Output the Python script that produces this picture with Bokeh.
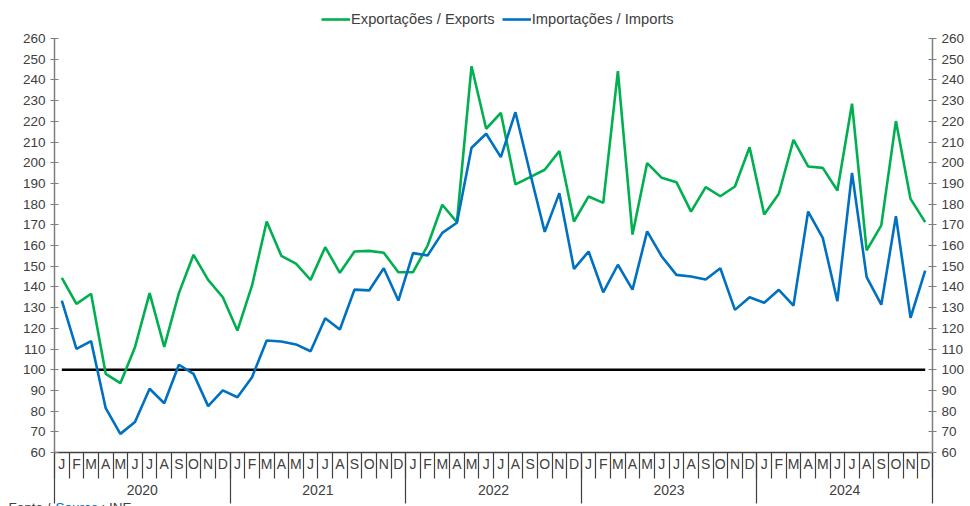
from bokeh.plotting import figure
from bokeh.models import Range1d, LinearAxis, FixedTicker, Legend, LegendItem, Label
from bokeh.embed import file_html
from bokeh.resources import INLINE

years = ["2020", "2021", "2022", "2023", "2024"]
month_letters = ["J", "F", "M", "A", "M", "J", "J", "A", "S", "O", "N", "D"]

exports = [
    144.4, 131.8, 136.7, 98.0, 93.5, 110.9, 137.0, 111.0, 137.0, 155.5, 143.4, 135.0,
    118.9, 140.7, 171.6, 155.0, 151.2, 143.4, 159.2, 146.8, 157.1, 157.4, 156.5, 147.1,
    147.1, 160.0, 179.7, 171.3, 246.6, 216.4, 224.1, 189.5, 193.0, 196.6, 205.6, 171.6,
    183.7, 180.6, 244.2, 165.3, 199.8, 192.7, 190.6, 176.4, 188.2, 183.8, 188.5, 207.5,
    175.0, 185.0, 211.0, 198.2, 197.5, 186.6, 228.5, 157.6, 169.7, 220.1, 182.5, 171.3,
]
imports = [
    133.4, 110.1, 113.8, 81.4, 69.0, 74.7, 90.8, 83.8, 102.4, 98.0, 82.4, 90.0,
    86.7, 96.4, 114.1, 113.6, 112.2, 108.9, 124.9, 119.4, 138.7, 138.3, 149.0, 133.4,
    156.3, 155.2, 166.1, 171.0, 207.2, 214.0, 202.7, 224.4, 195.0, 166.6, 185.3, 148.7,
    157.1, 137.4, 150.7, 138.7, 166.8, 154.7, 145.8, 145.0, 143.6, 149.0, 128.9, 135.0,
    132.3, 138.6, 131.0, 176.4, 163.7, 133.1, 195.1, 144.7, 131.4, 174.2, 125.1, 147.9,
]
baseline = [100] * len(exports)

y_ticks = list(range(60, 261, 10))
Y_MIN, Y_MAX = 60, 260

FONT = "Liberation Sans"
TXT = "#404040"
AXC = "#7f7f7f"
GREEN = "#00B050"
BLUE = "#0070C0"

n = len(exports)
xs = list(range(n))

# pixel geometry of the plotting area inside the 970x506 canvas
W, H = 970, 506
L, R, T, B = 54, 932, 38, 452
ppx = (R - L) / n                     # px per month
ppy = (B - T) / (Y_MAX - Y_MIN)       # px per index point
x0 = -0.5 - L / ppx
x1 = n - 0.5 + (W - R) / ppx
y1 = Y_MAX + T / ppy
y0 = Y_MIN - (H - B) / ppy

p = figure(width=W, height=H, output_backend="svg", toolbar_location=None,
           x_range=Range1d(x0, x1), y_range=Range1d(y0, y1),
           x_axis_location=None, y_axis_location=None,
           min_border_left=0, min_border_right=0, min_border_top=0, min_border_bottom=0)
p.outline_line_color = None
p.background_fill_color = "white"
p.border_fill_color = "white"
p.grid.visible = False

def yaxis(loc):
    ax = LinearAxis(ticker=FixedTicker(ticks=y_ticks, minor_ticks=[]),
                    fixed_location=loc, bounds=(Y_MIN, Y_MAX))
    ax.major_tick_in = 4
    ax.major_tick_out = 4
    ax.minor_tick_in = 0
    ax.minor_tick_out = 0
    ax.axis_line_color = AXC
    ax.axis_line_width = 1.5
    ax.major_tick_line_color = AXC
    ax.major_tick_line_width = 1.2
    ax.major_label_text_font = FONT
    ax.major_label_text_font_size = "13.5px"
    ax.major_label_text_color = TXT
    ax.major_label_standoff = 5
    return ax

p.add_layout(yaxis(-0.5), "left")
p.add_layout(yaxis(n - 0.5), "right")

# month axis
overrides = {i: month_letters[i % 12] for i in xs}
mx = LinearAxis(ticker=FixedTicker(ticks=xs, minor_ticks=[i - 0.5 for i in range(n + 1)]),
                fixed_location=Y_MIN, bounds=(-0.5, n - 0.5))
mx.major_label_overrides = overrides
mx.major_tick_in = 0
mx.major_tick_out = 0
mx.minor_tick_in = -26
mx.minor_tick_out = 0
mx.axis_line_color = "#404040"
mx.axis_line_width = 1.5
mx.minor_tick_line_color = "#404040"
mx.minor_tick_line_width = 1.2
mx.major_label_text_font = FONT
mx.major_label_text_font_size = "14px"
mx.major_label_text_color = TXT
mx.major_label_standoff = 3
p.add_layout(mx, "below")

# year axis
year_centers = [12 * k + 5.5 for k in range(len(years))]
year_bounds = [12 * k - 0.5 for k in range(len(years) + 1)]
yx = LinearAxis(ticker=FixedTicker(ticks=year_centers, minor_ticks=year_bounds),
                fixed_location=Y_MIN, bounds=(-0.5, n - 0.5))
yx.major_label_overrides = {c: y for c, y in zip(year_centers, years)}
yx.axis_line_color = None
yx.major_tick_in = 0
yx.major_tick_out = 0
yx.minor_tick_in = -51
yx.minor_tick_out = 0
yx.minor_tick_line_color = "#404040"
yx.minor_tick_line_width = 1.2
yx.major_label_text_font = FONT
yx.major_label_text_font_size = "14px"
yx.major_label_text_color = TXT
yx.major_label_standoff = 32
p.add_layout(yx, "below")

p.line(xs, baseline, line_color="black", line_width=2.6)
r_exp = p.line(xs, exports, line_color=GREEN, line_width=2.6)
r_imp = p.line(xs, imports, line_color=BLUE, line_width=2.6)

legend = Legend(items=[LegendItem(label="Exportações / Exports", renderers=[r_exp]),
                       LegendItem(label="Importações / Imports", renderers=[r_imp])],
                orientation="horizontal", location=(321, H - 29))
legend.label_text_font = FONT
legend.label_text_font_size = "14.7px"
legend.label_text_color = TXT
legend.glyph_width = 29
legend.label_standoff = 1
legend.spacing = 7
legend.padding = 0
legend.margin = 0
legend.border_line_color = None
legend.background_fill_alpha = 0
p.add_layout(legend, "center")

# source note (partially cut at the bottom of the page)
sx = -0.5 - 46 / ppx
sy = Y_MIN - 47 / ppy
for txt, off, col in [("Fonte / ", 0, TXT), ("Source", 47, BLUE), (": INE", 93, TXT)]:
    p.add_layout(Label(x=sx, y=sy, x_offset=off, text=txt, text_font=FONT,
                       text_font_size="13.5px", text_color=col, text_baseline="top"))

open("out.html", "w").write(file_html(p, INLINE))
